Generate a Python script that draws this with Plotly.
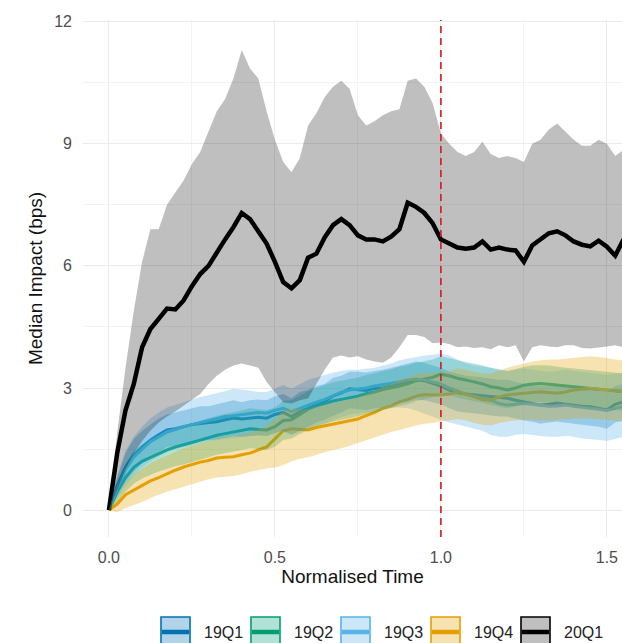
import plotly.graph_objects as go

# ---------------- data ----------------
TIME = [0.000, 0.025, 0.050, 0.075, 0.100, 0.125, 0.150, 0.175, 0.200, 0.225,
        0.250, 0.275, 0.300, 0.325, 0.350, 0.375, 0.400, 0.425, 0.450, 0.475,
        0.500, 0.525, 0.550, 0.575, 0.600, 0.625, 0.650, 0.675, 0.700, 0.725,
        0.750, 0.775, 0.800, 0.825, 0.850, 0.875, 0.900, 0.925, 0.950, 0.975,
        1.000, 1.025, 1.050, 1.075, 1.100, 1.125, 1.150, 1.175, 1.200, 1.225,
        1.250, 1.275, 1.300, 1.325, 1.350, 1.375, 1.400, 1.425, 1.450, 1.475,
        1.500, 1.525, 1.550]

MID_20Q1 = [0.00, 1.40, 2.45, 3.10, 4.00, 4.45, 4.70, 4.95, 4.93, 5.15,
            5.50, 5.80, 6.00, 6.35, 6.65, 6.95, 7.30, 7.15, 6.85, 6.55,
            6.10, 5.60, 5.45, 5.65, 6.20, 6.30, 6.70, 7.00, 7.15, 7.00,
            6.75, 6.65, 6.65, 6.60, 6.72, 6.90, 7.55, 7.45, 7.30, 7.05,
            6.65, 6.55, 6.45, 6.42, 6.45, 6.60, 6.40, 6.45, 6.40, 6.38,
            6.10, 6.50, 6.65, 6.80, 6.85, 6.75, 6.60, 6.52, 6.48, 6.62,
            6.47, 6.25, 6.65]
HI_20Q1 = [0.00, 1.90, 3.50, 4.90, 6.10, 6.90, 6.90, 7.50, 7.80, 8.10,
           8.50, 8.80, 9.30, 9.80, 10.10, 10.60, 11.30, 10.85, 10.60, 9.80,
           9.10, 8.55, 8.30, 8.65, 9.45, 9.75, 10.15, 10.40, 10.55, 10.35,
           9.70, 9.45, 9.55, 9.70, 9.80, 9.85, 10.55, 10.60, 10.40, 10.00,
           9.25, 9.00, 8.80, 8.70, 8.80, 9.05, 8.75, 8.65, 8.70, 8.65,
           8.55, 9.00, 9.10, 9.35, 9.50, 9.30, 9.10, 8.95, 8.95, 9.10,
           9.00, 8.70, 8.85]
LO_20Q1 = [0.00, 0.50, 1.00, 1.40, 1.70, 1.95, 2.15, 2.30, 2.42, 2.55,
           2.70, 2.85, 3.10, 3.30, 3.45, 3.55, 3.60, 3.55, 3.50, 3.15,
           2.90, 2.65, 2.62, 2.70, 2.75, 3.10, 3.45, 3.75, 3.80, 3.75,
           3.78, 3.70, 3.65, 3.62, 3.75, 4.00, 4.30, 4.30, 4.25, 4.10,
           4.12, 4.08, 4.00, 4.02, 3.98, 4.00, 3.95, 4.05, 4.00, 4.05,
           3.65, 4.00, 4.05, 4.02, 4.00, 4.05, 4.05, 3.98, 3.97, 4.00,
           4.02, 4.05, 4.00]

MID_19Q1 = [0.00, 0.60, 1.05, 1.35, 1.55, 1.72, 1.85, 1.97, 2.00, 2.05,
            2.10, 2.13, 2.15, 2.17, 2.22, 2.26, 2.24, 2.26, 2.28, 2.26,
            2.35, 2.40, 2.30, 2.42, 2.50, 2.60, 2.68, 2.80, 2.88, 2.98,
            2.96, 2.94, 2.99, 3.00, 3.05, 3.10, 3.15, 3.20, 3.18, 3.12,
            3.05, 2.95, 2.88, 2.85, 2.83, 2.80, 2.78, 2.76, 2.75, 2.70,
            2.66, 2.62, 2.58, 2.60, 2.63, 2.60, 2.57, 2.55, 2.54, 2.50,
            2.46, 2.60, 2.66]
HI_19Q1 = [0.00, 0.80, 1.40, 1.75, 1.95, 2.10, 2.25, 2.35, 2.40, 2.45,
           2.50, 2.55, 2.55, 2.60, 2.65, 2.70, 2.65, 2.70, 2.72, 2.70,
           2.80, 2.85, 2.75, 2.90, 2.95, 3.05, 3.10, 3.25, 3.30, 3.40,
           3.40, 3.38, 3.42, 3.45, 3.50, 3.55, 3.60, 3.65, 3.62, 3.55,
           3.50, 3.40, 3.35, 3.30, 3.28, 3.25, 3.22, 3.20, 3.20, 3.15,
           3.10, 3.08, 3.05, 3.05, 3.08, 3.05, 3.02, 3.00, 2.98, 2.95,
           2.90, 3.05, 3.10]
LO_19Q1 = [0.00, 0.35, 0.70, 0.95, 1.15, 1.30, 1.42, 1.55, 1.58, 1.62,
           1.68, 1.70, 1.72, 1.74, 1.78, 1.82, 1.80, 1.82, 1.84, 1.82,
           1.90, 1.95, 1.85, 1.95, 2.05, 2.15, 2.22, 2.32, 2.40, 2.50,
           2.48, 2.46, 2.50, 2.52, 2.58, 2.62, 2.66, 2.72, 2.70, 2.65,
           2.60, 2.50, 2.42, 2.40, 2.38, 2.35, 2.33, 2.30, 2.30, 2.25,
           2.20, 2.17, 2.12, 2.15, 2.18, 2.15, 2.12, 2.10, 2.08, 2.05,
           2.00, 2.15, 2.20]

MID_19Q2 = [0.00, 0.45, 0.80, 1.05, 1.20, 1.30, 1.40, 1.48, 1.55, 1.60,
            1.66, 1.72, 1.78, 1.84, 1.88, 1.92, 1.96, 2.00, 1.98, 1.97,
            2.05, 2.20, 2.22, 2.35, 2.48, 2.56, 2.62, 2.68, 2.72, 2.76,
            2.80, 2.86, 2.90, 2.96, 3.00, 3.05, 3.10, 3.18, 3.22, 3.26,
            3.34, 3.30, 3.24, 3.20, 3.15, 3.10, 3.03, 3.00, 2.95, 3.00,
            3.07, 3.10, 3.11, 3.09, 3.07, 3.05, 3.03, 3.01, 2.99, 2.97,
            2.95, 2.92, 2.91]
HI_19Q2 = [0.00, 0.70, 1.15, 1.45, 1.62, 1.74, 1.85, 1.94, 2.02, 2.08,
           2.14, 2.20, 2.26, 2.32, 2.36, 2.40, 2.45, 2.50, 2.48, 2.46,
           2.52, 2.68, 2.70, 2.82, 2.92, 3.00, 3.08, 3.14, 3.18, 3.22,
           3.26, 3.32, 3.36, 3.42, 3.46, 3.52, 3.56, 3.62, 3.66, 3.70,
           3.78, 3.74, 3.68, 3.64, 3.60, 3.55, 3.50, 3.46, 3.42, 3.46,
           3.52, 3.55, 3.56, 3.55, 3.52, 3.50, 3.48, 3.46, 3.45, 3.42,
           3.40, 3.38, 3.36]
LO_19Q2 = [0.00, 0.20, 0.45, 0.65, 0.78, 0.86, 0.95, 1.02, 1.08, 1.12,
           1.18, 1.24, 1.30, 1.36, 1.40, 1.44, 1.48, 1.52, 1.50, 1.48,
           1.56, 1.72, 1.76, 1.88, 1.98, 2.06, 2.12, 2.18, 2.22, 2.26,
           2.30, 2.36, 2.40, 2.46, 2.50, 2.56, 2.60, 2.68, 2.72, 2.78,
           2.86, 2.82, 2.76, 2.72, 2.68, 2.64, 2.58, 2.54, 2.50, 2.54,
           2.60, 2.64, 2.66, 2.64, 2.62, 2.60, 2.56, 2.54, 2.52, 2.50,
           2.48, 2.46, 2.44]

MID_19Q3 = [0.00, 0.55, 1.00, 1.30, 1.50, 1.68, 1.80, 1.92, 1.98, 2.05,
            2.10, 2.15, 2.20, 2.25, 2.30, 2.32, 2.35, 2.38, 2.40, 2.38,
            2.45, 2.50, 2.42, 2.50, 2.58, 2.65, 2.72, 2.82, 2.90, 2.95,
            2.98, 3.00, 3.05, 3.08, 3.12, 3.15, 3.20, 3.22, 3.20, 3.15,
            3.10, 3.00, 2.92, 2.85, 2.80, 2.75, 2.70, 2.62, 2.58, 2.60,
            2.62, 2.60, 2.58, 2.55, 2.56, 2.58, 2.55, 2.52, 2.50, 2.48,
            2.45, 2.50, 2.55]
HI_19Q3 = [0.00, 0.85, 1.45, 1.80, 2.05, 2.25, 2.40, 2.52, 2.58, 2.66,
           2.72, 2.78, 2.82, 2.88, 2.92, 2.98, 2.96, 2.94, 2.90, 2.90,
           2.98, 3.08, 2.98, 3.10, 3.20, 3.26, 3.32, 3.38, 3.42, 3.45,
           3.45, 3.47, 3.50, 3.55, 3.60, 3.68, 3.72, 3.76, 3.80, 3.82,
           3.85, 3.80, 3.70, 3.60, 3.55, 3.52, 3.50, 3.45, 3.42, 3.45,
           3.48, 3.45, 3.42, 3.40, 3.42, 3.45, 3.42, 3.40, 3.38, 3.35,
           3.32, 3.35, 3.38]
LO_19Q3 = [0.00, 0.30, 0.60, 0.85, 1.05, 1.20, 1.32, 1.42, 1.50, 1.55,
           1.60, 1.65, 1.70, 1.72, 1.75, 1.78, 1.80, 1.82, 1.84, 1.82,
           1.88, 1.92, 1.85, 1.92, 2.00, 2.08, 2.12, 2.20, 2.28, 2.35,
           2.38, 2.40, 2.45, 2.48, 2.52, 2.52, 2.50, 2.45, 2.38, 2.30,
           2.22, 2.15, 2.10, 2.05, 2.00, 1.95, 1.85, 1.80, 1.80, 1.85,
           1.87, 1.85, 1.82, 1.80, 1.80, 1.82, 1.80, 1.76, 1.74, 1.72,
           1.70, 1.75, 1.80]

MID_19Q4 = [0.00, 0.15, 0.38, 0.50, 0.60, 0.72, 0.80, 0.90, 0.98, 1.06,
            1.12, 1.18, 1.22, 1.28, 1.30, 1.31, 1.36, 1.40, 1.48, 1.55,
            1.75, 1.95, 2.00, 1.98, 1.97, 2.03, 2.07, 2.12, 2.15, 2.19,
            2.24, 2.32, 2.40, 2.50, 2.56, 2.66, 2.72, 2.80, 2.84, 2.83,
            2.83, 2.85, 2.90, 2.85, 2.78, 2.72, 2.70, 2.78, 2.83, 2.85,
            2.87, 2.90, 2.91, 2.89, 2.87, 2.90, 2.95, 2.97, 2.99, 2.97,
            2.95, 2.92, 2.91]
HI_19Q4 = [0.00, 0.35, 0.70, 0.88, 1.02, 1.15, 1.25, 1.35, 1.43, 1.52,
           1.58, 1.64, 1.70, 1.76, 1.80, 1.82, 1.86, 1.90, 1.98, 2.06,
           2.25, 2.45, 2.50, 2.48, 2.48, 2.54, 2.58, 2.64, 2.68, 2.72,
           2.78, 2.86, 2.94, 3.04, 3.10, 3.20, 3.26, 3.34, 3.38, 3.38,
           3.40, 3.42, 3.48, 3.45, 3.40, 3.36, 3.35, 3.42, 3.50, 3.55,
           3.60, 3.65, 3.68, 3.70, 3.70, 3.72, 3.74, 3.76, 3.78, 3.76,
           3.74, 3.70, 3.68]
LO_19Q4 = [0.00, -0.05, 0.05, 0.12, 0.20, 0.30, 0.38, 0.45, 0.52, 0.58,
           0.64, 0.70, 0.76, 0.80, 0.82, 0.84, 0.88, 0.94, 0.98, 1.02,
           1.05, 1.10, 1.20, 1.26, 1.30, 1.36, 1.42, 1.48, 1.52, 1.58,
           1.64, 1.72, 1.78, 1.85, 1.92, 1.97, 2.02, 2.08, 2.12, 2.14,
           2.18, 2.20, 2.24, 2.20, 2.14, 2.10, 2.08, 2.14, 2.18, 2.20,
           2.22, 2.22, 2.20, 2.20, 2.22, 2.24, 2.25, 2.26, 2.25, 2.24,
           2.22, 2.20, 2.18]

SERIES = ["19Q1", "19Q2", "19Q3", "19Q4", "20Q1"]
DATA = {
    "19Q1": (MID_19Q1, LO_19Q1, HI_19Q1),
    "19Q2": (MID_19Q2, LO_19Q2, HI_19Q2),
    "19Q3": (MID_19Q3, LO_19Q3, HI_19Q3),
    "19Q4": (MID_19Q4, LO_19Q4, HI_19Q4),
    "20Q1": (MID_20Q1, LO_20Q1, HI_20Q1),
}
X_TICKS = [0.0, 0.5, 1.0, 1.5]
X_TICK_TEXT = ["0.0", "0.5", "1.0", "1.5"]
Y_TICKS = [0, 3, 6, 9, 12]
Y_TICK_TEXT = ["0", "3", "6", "9", "12"]
CUTOFF = 1.0

# ---------------- styles ----------------
RGB = {"19Q1": (0, 114, 178), "19Q2": (0, 158, 115), "19Q3": (86, 180, 233),
       "19Q4": (230, 159, 0), "20Q1": (0, 0, 0)}
ALPHA = {"19Q1": 0.3, "19Q2": 0.3, "19Q3": 0.3, "19Q4": 0.3, "20Q1": 0.25}
LWIDTH = {"19Q1": 3, "19Q2": 3, "19Q3": 3, "19Q4": 3, "20Q1": 4.5}
FONT = "Liberation Sans, Arial, Helvetica, sans-serif"

def rgb(c):
    return "rgb(%d,%d,%d)" % c

def rgba(c, a):
    return "rgba(%d,%d,%d,%.3f)" % (c[0], c[1], c[2], a)

fig = go.Figure()

# lines first, ribbons drawn over them (as in the reference)
for s in SERIES:
    mid, lo, hi = DATA[s]
    fig.add_trace(go.Scatter(x=TIME, y=mid, mode="lines", name=s,
                             line=dict(color=rgb(RGB[s]), width=LWIDTH[s]),
                             showlegend=False, hoverinfo="skip"))
for s in SERIES:
    mid, lo, hi = DATA[s]
    fig.add_trace(go.Scatter(x=TIME + TIME[::-1], y=hi + lo[::-1],
                             mode="lines", fill="toself",
                             fillcolor=rgba(RGB[s], ALPHA[s]),
                             line=dict(width=0, color="rgba(0,0,0,0)"),
                             showlegend=False, hoverinfo="skip"))

fig.add_vline(x=CUTOFF, line=dict(color="#d7191c", width=1.6, dash="7px,5px"))

# plot-area geometry in pixels (for the custom legend)
W, H = 622, 643
L, R, T, B = 83, 0, 20, 106
PW, PH = W - L - R, H - T - B

def px2x(px):
    return (px - L) / PW

def py2y(py):
    return (H - B - py) / PH

# custom ggplot-like legend keys
KEY_X0, KEY_STEP, KEY_W = 161, 90, 29
KEY_TOP, KEY_BOT, KEY_MID = 617, 647, 632
for i, s in enumerate(SERIES):
    x0 = KEY_X0 + KEY_STEP * i
    fig.add_shape(type="rect", xref="paper", yref="paper",
                  x0=px2x(x0), x1=px2x(x0 + KEY_W),
                  y0=py2y(KEY_BOT), y1=py2y(KEY_TOP),
                  fillcolor=rgba(RGB[s], ALPHA[s]),
                  line=dict(color=rgb(RGB[s]), width=1.6))
    fig.add_shape(type="line", xref="paper", yref="paper",
                  x0=px2x(x0 + 1), x1=px2x(x0 + KEY_W - 1),
                  y0=py2y(KEY_MID), y1=py2y(KEY_MID),
                  line=dict(color=rgb(RGB[s]), width=4.5))
    fig.add_annotation(xref="paper", yref="paper", x=px2x(x0 + 41), y=py2y(KEY_MID),
                       text=s, showarrow=False, xanchor="left", yanchor="middle",
                       font=dict(family=FONT, size=16, color="#222222"))

fig.update_layout(
    width=W, height=H,
    margin=dict(l=L, r=R, t=T, b=B, pad=0),
    paper_bgcolor="white", plot_bgcolor="white",
    font=dict(family=FONT),
    showlegend=False,
    xaxis=dict(
        range=[-0.078, -0.078 + PW / 332.0],
        tickvals=X_TICKS, ticktext=X_TICK_TEXT,
        showgrid=True, gridcolor="#EBEBEB", gridwidth=1.1,
        minor=dict(tickvals=[0.25, 0.75, 1.25], showgrid=True,
                   gridcolor="#F3F3F3", gridwidth=0.7),
        zeroline=False, showline=False, ticks="",
        tickfont=dict(family=FONT, size=16, color="#4D4D4D"),
        ticklabelstandoff=9,
        title=dict(text="Normalised Time", font=dict(family=FONT, size=19, color="#111111"),
                   standoff=4),
    ),
    yaxis=dict(
        range=[-0.66, 12.04],
        tickvals=Y_TICKS, ticktext=Y_TICK_TEXT,
        showgrid=True, gridcolor="#EBEBEB", gridwidth=1.1,
        minor=dict(tickvals=[1.5, 4.5, 7.5, 10.5], showgrid=True,
                   gridcolor="#F3F3F3", gridwidth=0.7),
        zeroline=False, showline=False, ticks="",
        tickfont=dict(family=FONT, size=16, color="#4D4D4D"),
        ticklabelstandoff=10,
        title=dict(text="Median Impact (bps)", font=dict(family=FONT, size=19, color="#111111"),
                   standoff=6),
    ),
)

fig.write_html("out.html")
